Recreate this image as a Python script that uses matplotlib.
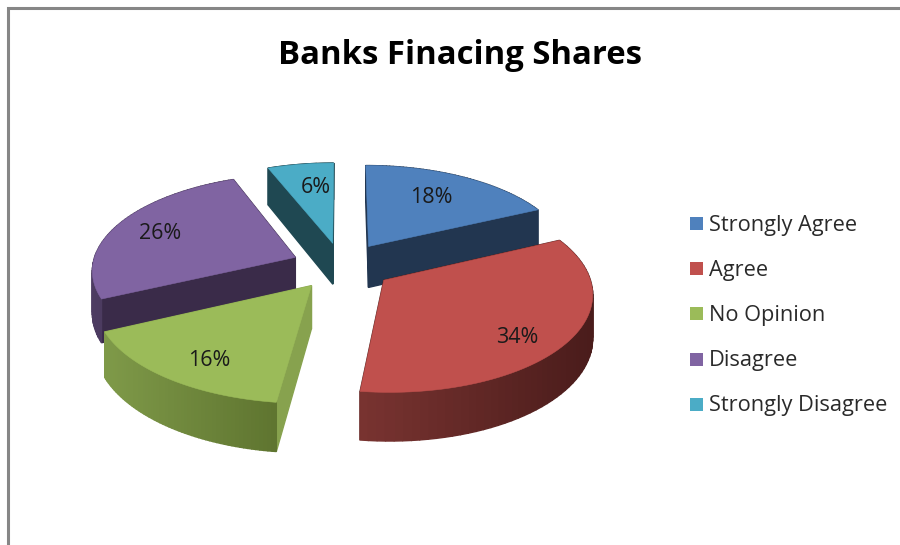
import numpy as np
import matplotlib
matplotlib.use("Agg")
import matplotlib.pyplot as plt
from matplotlib.patches import Polygon, Rectangle

title = "Banks Finacing Shares"
categories = ["Strongly Agree", "Agree", "No Opinion", "Disagree", "Strongly Disagree"]
shares = [18, 34, 16, 26, 6]
colors = ["#4f81bd", "#c0504d", "#9bbb59", "#8064a2", "#4bacc6"]
side_colors = ["#223650", "#4e1f1d", "#87a24e", "#3a2b49", "#1f4852"]
arc_left = ["#223650", "#7a3431", "#7f9a49", "#4d3c62", "#1f4852"]
arc_right = ["#223650", "#4a1c1b", "#5f7530", "#3a2b49", "#1f4852"]

# perspective model of the pie plane
CX, CY = 342, 266
A, B, K = 203, 95, 0.12
EXPLODE = [0.25, 0.25, 0.25, 0.25, 0.25]
RADIUS = [1.0, 1.0, 1.03, 1.0, 1.0]
DEPTH = 42
label_r = [0.62, 0.72, 0.62, 0.66, 0.70]
label_shift = [(2, -4), (4, 13), (-19, 21), (-17, -2), (6, 1)]


def project(X, Y):
    w = 1 + K * Y
    return CX + A * X / w, CY - B * Y / w


def drop(X, Y):
    return DEPTH / (1 + K * Y)


fig = plt.figure(figsize=(9, 5.45), dpi=100)
ax = fig.add_axes([0, 0, 1, 1])
ax.set_xlim(0, 900)
ax.set_ylim(545, 0)
ax.axis("off")

ax.plot([8, 8, 900], [545, 7.5, 7.5], color="#868686", lw=2.2, solid_joinstyle="miter")

starts = np.cumsum([0] + shares[:-1]) / sum(shares) * 2 * np.pi
spans = np.array(shares) / sum(shares) * 2 * np.pi


def mix(c1, c2, t):
    a, b = np.array(matplotlib.colors.to_rgb(c1)), np.array(matplotlib.colors.to_rgb(c2))
    return tuple(a + (b - a) * t)


wedges = []
for i in range(len(shares)):
    mid = starts[i] + spans[i] / 2
    ox, oy = EXPLODE[i] * np.sin(mid), EXPLODE[i] * np.cos(mid)
    th = np.linspace(starts[i], starts[i] + spans[i], 60)
    PX, PY = ox + RADIUS[i] * np.sin(th), oy + RADIUS[i] * np.cos(th)
    wedges.append((i, mid, ox, oy, th, PX, PY))

# back to front by apex height
for i, mid, ox, oy, th, PX, PY in sorted(wedges, key=lambda w: project(w[2], w[3])[1]):
    faces = []

    def quad(x1, y1, x2, y2, col):
        sx1, sy1 = project(x1, y1)
        sx2, sy2 = project(x2, y2)
        d1, d2 = drop(x1, y1), drop(x2, y2)
        pts = [(sx1, sy1), (sx2, sy2), (sx2, sy2 + d2), (sx1, sy1 + d1)]
        faces.append(((sy1 + sy2) / 2, pts, col))

    quad(ox, oy, PX[0], PY[0], side_colors[i])
    quad(ox, oy, PX[-1], PY[-1], side_colors[i])
    sxs = project(PX, PY)[0]
    lo, hi = sxs.min(), sxs.max()
    for j in range(len(th) - 1):
        t = (sxs[j] - lo) / max(hi - lo, 1)
        quad(PX[j], PY[j], PX[j + 1], PY[j + 1], mix(arc_left[i], arc_right[i], t))
    for _, pts, col in sorted(faces, key=lambda f: f[0]):
        ax.add_patch(Polygon(pts, closed=True, fc=col, ec=col, lw=1.0, zorder=2))
    sx, sy = project(np.r_[ox, PX], np.r_[oy, PY])
    ax.add_patch(Polygon(np.c_[sx, sy], closed=True, fc=colors[i], ec=colors[i], lw=0.4, zorder=2))
    lx, ly = project(ox + label_r[i] * np.sin(mid), oy + label_r[i] * np.cos(mid))
    ax.text(lx + label_shift[i][0], ly + label_shift[i][1], f"{shares[i]}%", fontsize=15.5,
            family="Open Sans", color="#1a1a1a", ha="center", va="center", zorder=5)

ax.text(460, 55, title, fontsize=23.7, family="Open Sans", fontweight="bold",
        ha="center", va="center", color="black")

for n, (name, col) in enumerate(zip(categories, colors)):
    y = 223.5 + n * 45.2
    ax.add_patch(Rectangle((690, y - 6.5), 13, 13, fc=col, ec="none"))
    ax.text(709, y + 1.5, name, fontsize=15.7, family="Open Sans", color="#2a2a2a", ha="left", va="center")

fig.savefig("out.png", dpi=100)
